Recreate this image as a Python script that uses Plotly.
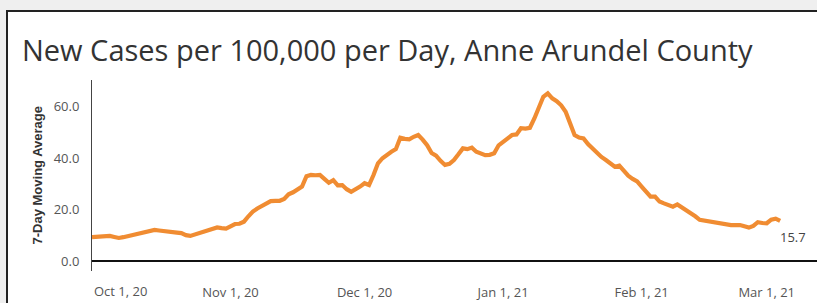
import pandas as pd
import plotly.graph_objects as go

# ---- data (7-day moving average of new cases per 100,000 per day) ----
start_date = "2020-10-01"
cases_7day = [
    9.4, 9.5, 9.6, 9.7, 9.9, 9.5, 9.1, 9.4, 9.8, 10.2, 10.6,
    11.0, 11.5, 11.9, 12.2, 12.0, 11.7, 11.4, 11.5, 11.2, 11.0,
    10.2, 9.9, 10.5, 11.2, 11.5, 12.2, 13.0, 13.2, 12.9, 12.7,
    13.6, 14.5, 14.6, 15.4, 17.5, 19.3, 20.5, 21.6, 22.6, 23.4,
    23.5, 23.5, 24.2, 26.0, 26.8, 27.8, 29.0, 33.0, 33.5, 33.4,
    33.5, 32.0, 30.5, 31.5, 29.5, 29.6, 28.0, 27.0, 27.8, 29.0,
    30.3, 29.6, 33.5, 38.0, 40.0, 41.5, 42.5, 43.5, 47.9, 47.5,
    47.3, 48.3, 49.0, 47.2, 45.0, 42.0, 41.0, 39.0, 37.4, 37.8,
    39.3, 41.5, 43.8, 43.5, 44.1, 42.5, 42.0, 41.2, 41.3, 41.9,
    45.0, 46.5, 48.0, 49.0, 49.2, 51.6, 51.5, 51.8, 55.4, 59.5,
    63.8, 65.1, 63.2, 62.1, 60.5, 58.0, 53.5, 49.0, 48.0, 47.7,
    45.5, 43.8, 42.0, 40.5, 39.3, 38.0, 36.7, 37.1, 35.0, 33.2,
    32.0, 31.0, 29.0, 27.0, 25.1, 25.1, 23.2, 22.5, 21.8, 21.2,
    22.1, 21.0, 19.8, 18.7, 17.5, 16.1, 15.8, 15.5, 15.4, 15.0,
    14.6, 14.2, 14.1, 14.1, 14.1, 13.6, 13.1, 13.8, 15.2, 14.9,
    14.8, 16.2, 16.6, 15.7,
]
dates = pd.date_range(start_date, periods=len(cases_7day), freq="D")

x_tick_dates = ["2020-11-01", "2020-12-01", "2021-01-01", "2021-02-01", "2021-03-01"]
x_tick_labels = ["Nov 1, 20", "Dec 1, 20", "Jan 1, 21", "Feb 1, 21", "Mar 1, 21"]
first_tick_date = "2020-10-01"
first_tick_label = "Oct 1, 20"
y_tick_vals = [0, 20, 40, 60]

title_text = "New Cases per 100,000 per Day, Anne Arundel County"
y_title = "7-Day Moving Average"

# ---- geometry (pixels) ----
W, H = 817, 303
L, R, T, B = 92, 0, 80, 32
pw, ph = W - L - R, H - T - B


def px_x(p):
    return (p - L) / pw


def px_y(p):
    return (H - B - p) / ph


tick_font = dict(family="Open Sans", size=13, color="#555555")

fig = go.Figure()
fig.add_trace(
    go.Scatter(
        x=dates,
        y=cases_7day,
        mode="lines",
        line=dict(color="#F08C32", width=4.2, shape="linear"),
        hoverinfo="skip",
        showlegend=False,
    )
)

# value label at the end of the line
fig.add_annotation(
    x=dates[-1], y=cases_7day[-1], xref="x", yref="y",
    text=f"{cases_7day[-1]:.1f}", showarrow=False,
    xanchor="left", yanchor="middle", xshift=-2, yshift=-16,
    font=dict(family="Open Sans", size=13, color="#444444"),
)

# first date label (kept inside the axis, left-aligned)
fig.add_annotation(
    x=first_tick_date, y=0, xref="x", yref="paper",
    text=first_tick_label, showarrow=False,
    xanchor="left", yanchor="top", xshift=0, yshift=-9,
    font=tick_font,
)

# y-axis title
fig.add_annotation(
    x=0, y=0.5, xref="paper", yref="paper",
    text=y_title, showarrow=False, textangle=-90,
    xanchor="center", yanchor="middle", xshift=37 - L,
    font=dict(family="Liberation Sans", size=13, color="#333333", weight="bold"),
)

# frame: gray outer strip + white panel with dark border on top/left
fig.add_shape(
    type="rect", xref="paper", yref="paper",
    x0=px_x(7), y0=px_y(11), x1=px_x(W + 10), y1=px_y(H + 10),
    line=dict(color="#222222", width=2), fillcolor="white", layer="below",
)

fig.update_layout(
    width=W, height=H,
    margin=dict(l=L, r=R, t=T, b=B, pad=0),
    paper_bgcolor="#efefef",
    plot_bgcolor="rgba(0,0,0,0)",
    title=dict(
        text=title_text,
        xref="container", yref="container",
        x=22 / W, xanchor="left",
        y=1 - 51 / H, yanchor="middle",
        font=dict(family="Open Sans", size=29, color="#333333"),
        pad=dict(l=0, r=0, t=0, b=0),
    ),
    xaxis=dict(
        range=["2020-10-01 00:00", "2021-03-12 06:00"],
        tickvals=x_tick_dates, ticktext=x_tick_labels,
        ticks="outside", ticklen=9, tickcolor="rgba(0,0,0,0)",
        tickfont=tick_font,
        showgrid=False, zeroline=False, showline=False,
    ),
    yaxis=dict(
        range=[-3.7, 70.3],
        tickvals=y_tick_vals, tickformat=".1f",
        ticks="outside", ticklen=9, tickcolor="rgba(0,0,0,0)",
        tickfont=tick_font,
        showgrid=False,
        zeroline=True, zerolinecolor="#111111", zerolinewidth=2,
        showline=True, linecolor="#444444", linewidth=1,
    ),
)

fig.write_html(
    "out.html",
    config={"displayModeBar": False, "staticPlot": True},
    post_script="document.body.style.margin='0';document.body.style.overflow='hidden';",
)
